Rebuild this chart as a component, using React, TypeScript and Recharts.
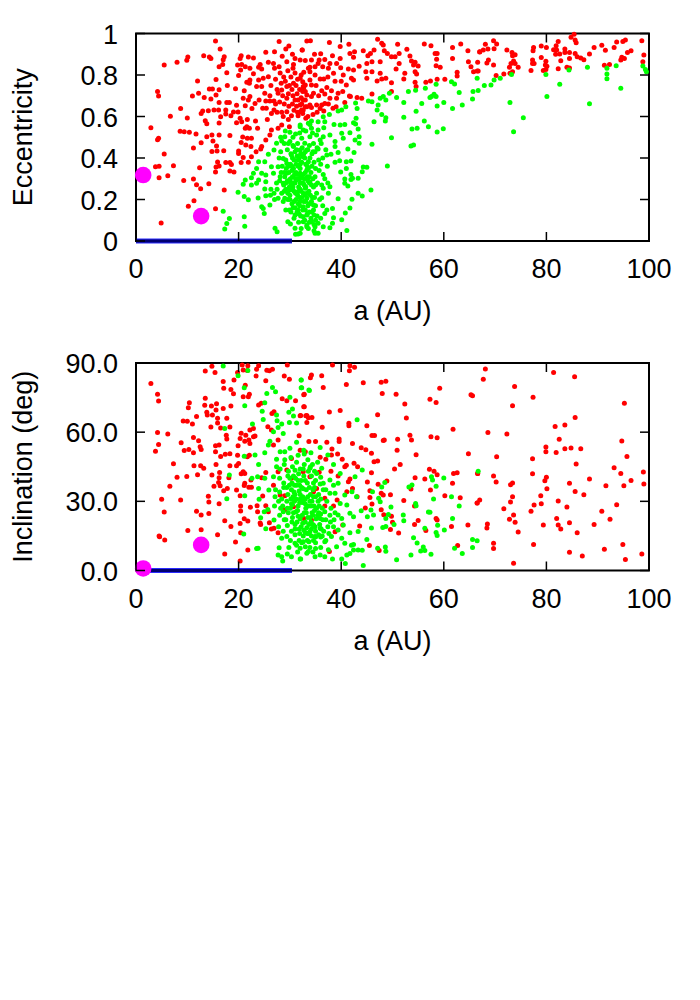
import React from "react"
import { ScatterChart, Scatter, XAxis, YAxis, ReferenceArea } from "recharts"

type Pair = number[]

const aTicks = [0, 20, 40, 60, 80, 100]
const eccTicks = [0, 0.2, 0.4, 0.6, 0.8, 1]
const incTicks = [0, 30, 60, 90]

// a (AU), eccentricity
const eccRed: Pair[] = [
  [15.5,.964],[16.4,.925],[5.5,.848],[8,.861],[10.1,.887],[9.9,.871],[13.2,.893],[14.3,.887],[14.6,.879],[17.2,.888],[17,.874],[16.9,.851],[16.2,.84],[17.7,.811],[20.5,.893],[20.3,.88],[21.9,.887],[22.9,.882],[19.8,.848],[20.6,.851],[21.3,.84],[20.4,.824],[22.2,.832],[20,.797],[24.2,.851],[23.9,.837],[24.5,.829],[25.8,.861],[27,.912],[27.9,.961],[29.2,.925],[29.8,.94],[32.4,.92],[30.5,.9],[32,.872],[29.4,.864],[26.8,.856],[27,.832],[27.9,.84],[30.7,.851],[30.6,.832],[33.6,.832],
  [15.6,.778],[12,.771],[17.8,.749],[19.4,.734],[21.1,.724],[21.6,.765],[22.2,.776],[22.1,.76],[22.9,.806],[23.5,.744],[24.5,.744],[24.8,.784],[25.8,.792],[23.9,.776],[4.2,.72],[4.4,.699],[11,.699],[12.2,.712],[13.3,.691],[14.3,.733],[14.9,.733],[16.2,.729],[15.6,.704],[14.6,.684],[8.7,.639],[6.7,.601],[10,.593],[2.9,.546],[4.4,.495],[4.2,.488],[5.5,.419],[8.6,.529],[9.4,.527],[10.4,.524],[11.7,.516],[12.7,.474],[11.2,.448],[13.8,.503],[14.8,.511],[16.2,.511],[18.3,.508],[15,.482],[15.7,.458],[14.8,.431],[15.8,.434],[17.1,.435],
  [12.7,.615],[13,.626],[14.1,.628],[15.2,.631],[16.1,.631],[16.2,.668],[17.7,.668],[18.2,.668],[19.6,.654],[17.5,.631],[17.5,.612],[16.5,.599],[19,.622],[19.9,.622],[18.5,.604],[13.5,.58],[13.8,.565],[16.2,.569],[19.6,.57],[20.3,.591],[20.6,.575],[21.7,.586],[23.3,.578],[23.7,.543],[21.3,.543],[21.6,.551],[22.1,.543],[20.8,.501],[21.7,.495],[22.5,.495],[20.5,.475],[21.4,.463],[22.4,.455],[24.5,.455],[25.3,.487],[26.1,.511],[26.4,.535],[27.7,.543],[28.4,.559],[29.9,.551],[20,.434],[20,.422],[23.4,.43],[24.3,.443],[20.5,.378],[21.9,.379],[20.9,.403],[22.5,.406],[17.5,.378],[18.3,.378],[18.6,.369],[15.9,.381],[15.6,.357],[16.2,.361],[18.3,.337],[19.1,.333],[15.5,.333],[12.4,.353],[7.3,.363],[3.8,.358],[4.5,.36],[4.5,.305],[6.2,.315],[9.3,.291],[11.2,.299],[11.8,.271],[12.6,.252],[14.2,.276],[17.2,.246],[11.3,.194],[10.2,.167],[15.5,.156],[4.9,.087],
  [25.6,.586],[26.9,.631],[26.4,.615],[28.4,.62],[29.4,.623],[30.3,.604],[29.7,.586],[31.6,.604],[32,.623],[32.6,.631],[32,.655],[33,.647],[33.9,.655],[31.6,.68],[33.3,.704],[31,.68],[29.4,.688],[28.4,.728],[29.4,.744],[30.7,.76],[32,.784],[33,.752],[32.5,.72],[33.9,.776],[27.7,.712],[25.1,.712],[25.3,.675],[26.1,.675],[26.9,.675],[22.2,.696],[20.9,.688],[21.9,.68],[23.2,.663],[21.3,.652],[22.6,.639],
  [33.3,.964],[34,.965],[37.7,.957],[39.8,.937],[41.5,.948],[32.4,.92],[36,.903],[34.2,.872],[35.7,.872],[36.8,.875],[38.3,.893],[39.8,.88],[41.7,.904],[42.6,.912],[42.4,.885],[44.3,.917],[45.7,.904],[46.4,.92],[47.1,.972],[47.9,.953],[48.2,.945],[51,.948],[48.4,.917],[49,.904],[49.8,.888],[50.5,.888],[51.3,.904],[52.8,.924],[53.4,.892],[56.2,.949],[57.5,.941],[58.3,.904],[58.7,.904],[58.6,.876],[61.7,.932],[63.3,.949],[64.7,.917],[67,.912],[61.7,.88],[64.8,.864],[65.3,.84],[65.8,.816],[66.7,.819],[58.5,.845],[59.3,.837],[53.7,.867],[54.4,.861],[54.1,.848],[55,.843],[54.4,.816],[54.7,.805],[52.4,.808],[52.2,.781],[50.7,.829],[51.3,.856],[47.6,.864],[45.2,.893],[45,.856],[46,.864],[43.5,.842],[44.8,.816],[46,.816],[47.6,.808],[45,.784],[47,.771],[47.9,.781],[48.7,.784],[49.8,.763],[54.4,.765],[54.6,.745],[56.5,.765],[57.4,.771],[58.7,.779],[60.2,.779],[62.6,.813],[62.6,.795],
  [33.9,.837],[34.9,.84],[35.5,.856],[36.4,.84],[37.8,.856],[39.1,.856],[39.9,.835],[38.5,.808],[37.5,.832],[34.9,.8],[40.4,.8],[41.4,.829],[42.4,.824],[42,.784],[42.4,.776],[32.7,.813],[33.9,.816],[35.9,.781],[36.6,.781],[32.5,.768],[34.2,.752],[36.2,.724],[38.1,.724],[41,.752],[39.4,.712],[40.3,.72],[41.6,.699],[41.8,.696],[43.1,.691],[44,.688],[46,.708],[49.8,.72],[32.6,.744],[33,.72],[34.6,.712],[32.6,.68],[34.2,.696],[35.2,.655],[36.8,.708],[37.8,.688],[39.1,.688],[33.3,.647],[34.2,.643],[36.2,.655],[36.8,.663],[35.9,.639],[36.6,.627],[39,.647],[40.7,.668],[32.3,.631],[32.5,.615],[33.1,.591],
  [69.7,.965],[70.3,.949],[68.1,.948],[67.7,.92],[67,.911],[68.6,.925],[69.8,.927],[72.3,.92],[73.3,.909],[73.9,.898],[73.4,.893],[66.6,.861],[68.4,.858],[68.7,.872],[69.7,.848],[66.5,.819],[70.2,.797],[71.7,.805],[72.8,.837],[73.1,.856],[73.6,.867],[73.9,.855],[74.5,.837],[73.4,.816],[72.9,.808],[77,.822],[77.3,.872],[77.6,.856],[77.3,.856],[77.4,.917],[77.5,.932],[79,.94],[80,.933],[79,.884],[79.9,.866],[79.8,.848],[80.1,.842],[79.9,.827],[79.4,.822],[82.3,.962],[81.9,.941],[81.4,.922],[82,.92],[81.8,.9],[82.6,.901],[82.8,.869],[82.3,.83],[84,.837],[84.5,.834],[83.6,.925],[83.6,.909],[84.5,.909],[84.5,.88],[84.8,.982],[85.4,.996],[85.6,.969],[85.8,.956],[85.6,.904],[86,.888],[86.7,.882],[87.3,.874],[88.4,.901],[89.3,.932],[90.8,.943],[91.5,.919],[91.3,.847],[92.3,.851],[93.2,.933],[93.7,.959],[94.9,.962],[95.4,.969],[95.8,.908],[96.5,.917],[94.5,.872],[94.7,.885],[95.2,.879],[98.6,.965],[99,.896],[98.8,.864],
  // thick patch above the green cloud
  [28.1,.81],[28.8,.79],[29.6,.82],[30.2,.79],[31,.81],[31.5,.78],[32.2,.8],[28.3,.76],[29.1,.77],[29.9,.75],[30.4,.73],[31.2,.75],[31.9,.73],[32.7,.74],[27.5,.73],[28.6,.7],[29.7,.71],[30.6,.7],[31.4,.71],[32.2,.69],[33,.68],[27.2,.66],[28,.67],[28.9,.66],[29.8,.65],[30.5,.66],[31.3,.65],[32.3,.66],[27.5,.62],[28.7,.6],[30.8,.63],[31.5,.62],[26.3,.75],[27.2,.78],[26.1,.7],[24,.68],[24.7,.64],[25.4,.64],[33.5,.6],[34.5,.61],[35.3,.62],[37.5,.66],[38.4,.64],[37.2,.74],[38.8,.77],[40,.77],[35.1,.75],[35.6,.7],[37.4,.79],[31,.88],[33,.87],[34.8,.9],[28.5,.89],[25.3,.91],
]

const eccGreen: Pair[] = [
  [58.5,.755],[56.4,.736],[53.1,.721],[54.5,.726],[61.5,.768],[62.1,.757],[63,.716],[65.7,.721],[66.7,.725],[66.5,.784],[65.6,.684],[63.6,.655],[61.7,.638],[60,.668],[58.7,.651],[57.6,.696],[58.1,.707],[58.5,.696],[57.3,.692],[55.7,.663],[54.6,.625],[52.2,.668],[50.8,.691],[49.4,.712],[48.7,.68],[47.6,.688],[48.2,.696],[46,.671],[45.3,.675],[47.2,.655],[47,.631],[47.9,.61],[48.7,.594],[48.6,.578],[46.4,.575],[52.2,.596],[56.2,.578],[57,.551],[54.8,.543],[53.8,.54],[59.9,.541],[58.7,.525],[49.8,.498],[46,.466],[54.1,.463],[53.6,.458],[49,.361],[45.8,.246],[41.1,.051],
  [42.8,.665],[43.1,.639],[40.9,.647],[40.1,.631],[39.4,.626],[37.7,.61],[36.5,.599],[42.9,.591],[42.4,.57],[42.8,.564],[43.3,.54],[38.6,.562],[39.8,.559],[40.7,.562],[36.8,.575],[35.5,.575],[34.2,.578],[33.9,.562],[32,.559],[34.2,.543],[35.5,.535],[36.6,.546],[32.6,.535],[40.1,.519],[41.7,.522],[43.5,.503],[40.4,.495],[42.7,.487],[43.5,.471],[38.8,.479],[37.8,.511],[36.5,.503],[35.2,.511],[33.9,.503],[35.9,.487],[38.8,.455],[41.3,.443],[42.5,.427],[39.4,.426],[38,.418],[37.2,.414],[34.9,.43],[35.5,.443],[33.3,.439],[38.8,.379],[39.7,.387],[41,.382],[41.9,.386],[44.3,.357],[45,.355],[44.1,.334],[41.9,.321],[39.9,.333],[41,.35],[40.7,.299],[41.9,.296],[42.2,.302],[43.3,.302],[40.7,.278],[41.3,.265],[43.3,.23],[44.1,.217],[42.1,.201],[39.4,.204],[41.7,.159],[40.8,.135],[40.1,.103],[38.5,.112],[38.3,.085],[37.8,.064],[38.3,.157],[37.8,.262],[37.5,.23],[36.5,.254],[36.2,.209],[35.5,.037],[34.9,.037],[36.5,.069],[35.5,.085],[34.9,.069],[34.2,.093],[36.8,.133],[37.2,.149],[34.6,.173],[34.7,.125],[32.6,.117],[33.3,.069],[32,.037],
  [17,.143],[18.2,.109],[17.7,.084],[17.3,.058],[21.1,.117],[21.2,.071],[19.9,.235],[21.1,.215],[21.9,.199],[23.8,.207],[24.5,.165],[24.8,.157],[25,.133],[25.3,.218],[26.1,.173],[26.9,.23],[27.7,.206],[27.1,.061],[27.5,.045],[29.6,.093],[30.1,.082],[31.6,.034],[31.1,.032],[31,.125],[29.9,.149],[29,.206],[20.9,.273],[21.3,.294],[22.5,.27],[23.5,.278],[25.1,.251],[25.3,.286],[23.9,.294],[22.5,.305],[22.9,.326],[23.5,.35],[24.5,.326],[25.3,.318],[23.9,.382],[25.1,.382],[25.8,.418],[26.9,.439],[27.4,.471],[28.4,.482],[26.4,.358],[26.8,.326],[27.7,.358],[28.7,.398],[29.4,.374],[30,.479],[29,.503],[30,.524],[31.1,.516],[32,.551],[33.6,.567],[32.3,.495],[30.7,.455],[32,.439],[32.9,.471],[30.3,.414],[31.6,.39],[32.6,.406],[33.6,.382],[28.1,.31],[29.4,.326],[30.7,.35],[32,.326],[33.3,.342],[28.7,.278],[30,.286],[31.3,.294],[32.6,.278],[33.9,.286],[30,.246],[31.6,.238],[33,.254],[33.3,.206],[32,.19],[32.6,.165],[31.6,.149],[33.3,.125],[32.6,.093],[33.3,.077],[31,.061],
  [28.2,.5],[28.9,.47],[29.5,.44],[30.2,.42],[31,.43],[31.5,.47],[32.4,.45],[33,.43],[33.8,.46],[34.6,.47],[35.3,.45],[36.1,.47],[28.5,.36],[29.2,.39],[30.1,.37],[30.8,.39],[31.6,.36],[32.3,.38],[33.1,.37],[33.9,.4],[34.7,.38],[35.6,.39],[36.4,.4],[28.3,.33],[29,.31],[29.8,.33],[30.5,.31],[31.2,.33],[31.9,.3],[32.6,.32],[33.4,.31],[34.1,.33],[34.9,.31],[35.7,.34],[36.5,.32],[37.3,.36],[28,.29],[28.8,.27],[29.5,.29],[30.2,.27],[31,.28],[31.7,.26],[32.4,.28],[33.1,.26],[33.8,.28],[34.6,.26],[35.4,.28],[36.2,.27],[27.5,.25],[28.4,.23],[29.2,.25],[30,.22],[30.8,.24],[31.5,.22],[32.2,.24],[33,.22],[33.7,.24],[34.4,.21],[35.2,.23],[27,.2],[28.7,.19],[29.6,.2],[30.4,.18],[31.2,.2],[31.9,.17],[32.7,.19],[33.5,.17],[34.2,.19],[35,.17],[29.2,.15],[30.2,.14],[31,.16],[31.8,.13],[32.5,.15],[33.4,.13],[34.3,.14],[35.3,.12],[30.8,.11],[31.7,.09],[32.9,.1],[33.8,.09],[35,.1],[36,.11],[32.2,.06],[33.6,.06],[34.7,.05],[26.2,.22],[27.4,.28],[26.3,.25],[27.9,.4],[28.2,.43],[29.1,.53],[30.6,.5],[31.9,.52],[33.1,.53],[34.4,.52],[30.4,.34],[31.1,.3],[32,.35],[32.8,.3],[33.6,.35],[31.4,.41],[32.1,.42],[30.6,.26],[32,.25],[29.3,.35],[35,.35],[36,.37],[34.5,.43],[37,.44],[36.8,.3],[37.4,.28],[35.8,.2],[36.4,.17],[34.1,.11],
  [73.2,.803],[72.9,.668],[75.5,.594],[73.6,.527],[79.9,.802],[80.1,.696],[82.6,.755],[84.4,.824],[88,.837],[88.4,.662],[91.8,.832],[91.8,.805],[91.8,.782],[93.6,.845],[94.5,.736],[98.8,.843],[99.3,.826],[99.5,.816],[67.9,.75],[69.2,.752],[69.8,.776],[71,.784],
  // densest part of the cloud
  [29.7,.47],[30.6,.46],[31.3,.44],[32.7,.42],[33.5,.44],[30.5,.4],[31.8,.4],[32.9,.4],[34.3,.42],[29.7,.36],[30.4,.36],[31.2,.37],[32,.37],[33.4,.36],[34.3,.36],[28.9,.33],[30.1,.3],[30.9,.32],[31.6,.32],[32.2,.31],[33,.33],[33.8,.31],[34.5,.3],[29.2,.28],[29.9,.26],[30.6,.28],[31.4,.3],[32,.28],[32.8,.27],[33.5,.29],[34.2,.27],[35,.27],[28.9,.24],[29.6,.23],[30.4,.25],[31.1,.23],[31.9,.21],[32.6,.23],[33.3,.23],[34,.22],[34.8,.21],[30,.2],[30.8,.19],[31.6,.18],[32.3,.21],[33.1,.19],[33.8,.18],[34.6,.15],[30.6,.16],[31.4,.14],[32.1,.12],[33,.15],[33.8,.14],[34.7,.08],
]

// a (AU), inclination
const incRed: Pair[] = [
  [2.9,81.1],[4.2,76.5],[4.4,73.5],[4.2,59.9],[6.2,59.2],[4.4,54.7],[3.8,51.7],[8.8,55.4],[9.4,52.1],[10.3,52.5],[11.2,51.1],[11.2,57.7],[12.2,56.3],[12.5,53.7],[12.7,52.5],[7.3,46.3],[11.3,45.4],[12.6,45.4],[13.2,44.3],[12,41.5],[8,40.5],[9.9,40.8],[6.6,36.5],[5,30.9],[8.7,30.6],[5.5,25.4],[4.5,15],[4.6,14.6],[5.6,13.2],[10.1,17.4],[12.7,17.7],[11.8,25.7],[12.7,24.1],[14.2,24.7],[14.1,32.2],[14.2,29.7],[16.2,28.9],[17.3,21.6],[18.5,19.1],[20.3,20.4],[21.1,22.5],[21.8,21.5],[24.3,20],[15.9,15.5],[17.3,7.2],[19.4,12.4],[20.4,16.4],[21.8,8.9],[20.3,4.1],[20.4,28],[20.4,25.8],[22.3,27.4],[23.6,28.1],[23.7,25.5],[25.3,28.1],[25.8,25.5],[24.2,20.6],[26,20.7],[26.4,18],[26.9,18.3],[27.7,16.4],
  [13.5,86.5],[14.8,88.6],[15.4,85.9],[19.8,85.9],[20.7,89.1],[21.8,88.8],[21.7,86.8],[20.9,87],[23.5,87.3],[23.9,88.8],[25.5,86.9],[26,86.6],[26.6,87.3],[29.5,89.1],[23.4,84.4],[28.9,84.4],[29.9,83],[19.1,82.6],[17,82],[17.1,79],[18.5,78.5],[19,76.7],[21.3,80.4],[25.3,82.3],[20.9,75.4],[21.9,75.4],[22.1,76.5],[13.5,74.7],[10.4,72.8],[10.2,70.6],[13.4,71.7],[14.7,71.3],[15.7,72.3],[15.6,69.6],[17,70.3],[18.5,71.3],[13.8,68.6],[13.9,67.4],[14.9,67.4],[15.9,66],[15.9,64],[17.7,66],[11.8,66.8],[9.2,64.8],[10,64.7],[11,63.5],[14.6,62.2],[16.5,61.8],[18.3,62.2],[20.5,59.5],[21.4,58.7],[21.2,56.1],[20.3,57.3],[22.9,58],[23.2,58.3],[17.6,58.7],[17.7,57],[16.2,54.4],[15.5,54.1],[19.9,54.1],[22,56.6],[22.2,55.1],[22.9,61.6],[22.2,60.9],[25.7,62.4],[15.5,51.5],[16.5,49.5],[17.4,50.4],[18.3,50.6],[19.8,50],[21.7,49.3],[22.1,50],[15.6,46],[18.3,45.4],[20,46.4],[19.6,45.4],[14.8,41.4],[16.3,42.5],[16.2,40.2],[18.1,40.2],[20.9,42.8],[21.2,42.1],[20.5,42],[16.1,38.2],[15.2,36.5],[16.4,36.8],[17.8,35.6],[17.1,34.6],[19.6,34.9],[21.2,37.8],[21.1,36.9],[22,36.1],[22.5,36.1],[22.4,39.2],[25.3,42.5],[24.5,40.2],[20.3,32.4],[24.7,32.3],[29,32.4],[23.9,71.8],[24.4,72.5],[26.5,68.1],[26.9,68.9],[28.5,74.5],[29.4,73.6],[31.1,73.6],[32.8,76.4],[32.8,71],[32.1,67.2],[33.3,67.2],[26.8,54.4],[27.7,56.6],[31.8,58.5],[30.3,48.6],[26.4,60.9],[32,52.2],[33,51.5],[29.4,43.6],[30.3,40],[27.7,42.8],[28.1,32.7],[30.7,27.7],[29,26.2],[26.8,37],
  [38.3,89.1],[41.6,86.6],[41.7,88.8],[42.6,88.2],[34.2,84.8],[34,83.6],[36.2,84.5],[36.5,79.4],[32.7,76.2],[41,80.7],[44.3,81.4],[47.8,81.7],[48.7,82.1],[48,76.8],[50.7,76.5],[52.4,72.2],[57.3,74.3],[58.5,72.9],[59.2,79],[65.3,76.2],[65.6,75.8],[32.7,71],[37.7,68.7],[39.8,69.4],[47.1,67.6],[52.7,66.1],[32,67.1],[33.1,67.1],[33.6,66.3],[34.3,66.4],[33.3,64.2],[36.3,62.1],[41.5,63.9],[41.5,62.8],[45,62.8],[61.8,61.3],[46,58.6],[46.5,58.6],[48.2,56.4],[48.4,56.6],[51,56.9],[53.4,58.7],[53.7,56.6],[57.5,58],[58.7,57.6],[33.7,55.9],[35,55.9],[37.2,55.6],[39.6,57],[39.6,55.9],[42.2,55.1],[43.9,53.2],[44.8,52.4],[45.9,50.9],[50.9,52.2],[54.6,50.2],[64.8,50.6],[38.2,52.7],[38.1,50.1],[39.3,50.5],[35.9,49.1],[37,48.3],[40.2,48.3],[46.4,47.2],[47.1,47.5],[51.5,46],[41,45.7],[40.7,45],[42.5,46.5],[43.2,45],[50.4,44],[38,43.1],[35.7,42.6],[45.9,42.4],[39.4,41],[57.2,43.9],[58.1,43],[58.7,41.5],[61.9,42.1],[62.6,42.4],[54.4,40.2],[56.3,39.7],[61.7,37.8],[66.6,42.1],[48.9,38.8],[47.2,37.4],[45.1,38.4],[41.7,39.7],[41.4,38.5],[57.4,34.9],[53.6,35.3],[45.6,34.6],[47.8,33.5],[48.2,32.7],[49.6,32.9],[42.2,35.6],[41.1,34.2],[45.6,31.7],[43.1,32],[39.2,30.6],[60.2,32.4],[63.2,31.6],[66.5,29.3],[52.2,30.4],[54.3,28],[46,28.8],[44.7,27.1],[47.8,26.4],[48.3,24.2],[49.8,23.5],[38.5,28],[55,21.7],[58.5,22.6],[58.7,21.9],[54.3,19.9],[61.5,19.1],[64.7,19.7],[50,20.9],[49.6,17.8],[51.2,16.3],[56.5,17.4],[43.6,19.3],[45.5,10.8],[47.4,8.7],[62.7,10.8],[37.7,8.2],[38.8,16.8],[40.3,19.7],[35.9,24.5],[32.7,22.6],[34.2,21.9],[36.8,31.3],[35.2,35.6],[33.9,40.7],[32.6,42.8],[34.6,34.2],[36.8,28],
  [68.1,87.4],[67.7,82.9],[73.8,79.8],[77.4,75.1],[73.4,71.5],[81.4,85.9],[85.5,84],[95.2,72.5],[85.6,66.4],[83.6,63.1],[81.7,62.5],[68.6,59.9],[72.3,59.2],[94.7,56.2],[82.5,56.9],[79.9,53.6],[79.9,51.5],[81.9,51.2],[83.6,52.8],[84.8,53.1],[86.7,52.8],[70.3,49.3],[77.3,48.5],[95.7,49.5],[85.8,46.2],[93.2,44.6],[98.9,42.7],[94.5,42.1],[66.6,42.1],[69.7,41],[77.3,42],[80,40.4],[79.7,38.9],[88.4,39.7],[70.2,38.4],[73.4,37.9],[73,37.2],[84.5,37.8],[91.6,36.8],[95.1,36.8],[96.5,39],[99,37.5],[80.1,35.5],[85.6,34.3],[87.3,32.9],[78.9,32.4],[73.4,32],[73,29.7],[67,30.6],[66.5,29.3],[82.3,30.1],[79,29],[77.6,28.4],[84,27.5],[71.7,26.8],[77,25.7],[93.7,28.5],[90.8,25.7],[73.6,24.1],[82,22.6],[72.8,22.2],[73.9,20.9],[92.4,22.2],[68.5,20.2],[68.4,18.4],[79.4,19.7],[82.3,19.7],[82.8,18],[84.5,20.7],[89.3,20],[74.5,16.7],[86,16.4],[69.7,11.8],[69.7,9.5],[77.5,11.3],[94.9,11.3],[91.3,9.2],[84.5,7.9],[87,6.3],[98.6,7.2],[95.4,4.8],[73.6,3.1],
]

const incGreen: Pair[] = [
  [17,88.7],[19.9,84.5],[21.8,86.8],[21.1,79.3],[21.2,71.5],[25.5,76.8],[26.6,79.4],[27.2,77.5],[25.1,72.8],[24.6,69.1],[24.8,65.5],[27.4,67.4],[30,75.1],[32.3,79.3],[32.2,82.6],[33.7,78.3],[29.8,68.6],[30.5,70],[30.7,67],[27.5,65],[28.4,63.5],[29.9,64.2],[31.3,64],[26.8,60.2],[27.7,62],[28.7,59.4],[22.7,63.5],[17.3,61.6],[26.1,56.1],[25.8,54.4],[25.1,51.1],[23.2,50.1],[21.1,49.6],[23.9,46],[27.4,48.3],[28.1,51.5],[29,51.5],[30,53],[31.3,55.6],[18.2,41.4],[22.6,40],[23.7,40.7],[25.1,40],[23.9,35.6],[17.7,31.1],[21.2,32.4],[24,30.9],[26.8,40.7],[25.9,34.9],[27.1,32],[25,25.5],[25.7,26.5],[24.3,22.9],[26.9,21.9],[25.3,18.1],[21,15.8],[23.8,9.6],[23.5,9.5],[27.9,9.9],[28.4,14],[29.4,14.7],[27.7,6.7],[29.5,7.2],[28.6,4.1],[28.4,6],[30.3,6],[32,5],[31,11.8],[32,9.6],[33,10.3],[33.3,7.5],
  [43.1,65.4],[32.2,82.6],[32.2,79.3],[33.8,78.1],[35.9,53.4],[32.7,52.2],[34.1,51.1],[37.4,50.1],[38.5,46],[44.1,43.6],[39.8,42.1],[42.7,40.7],[47.9,36.2],[48.5,38.2],[53.8,37.1],[53.2,36.2],[57.6,40.7],[57.8,39.2],[60,40.1],[58.5,36.5],[58,31],[61.5,32],[63,28],[66.7,43.1],[54.5,29.1],[54.6,28.1],[49.7,27.5],[57,25.4],[57.3,25.3],[61.7,22.6],[52.1,24.1],[52.2,21.6],[49.2,24.3],[48.7,22.6],[50.3,20],[48.7,19.1],[48.1,18.6],[45.9,18.4],[56.3,18.3],[58.8,19.6],[60.1,17.6],[58.5,16.5],[58.7,15.2],[54.1,14.2],[65.6,13.5],[66.5,12.9],[54.8,11.9],[56,10.2],[56.3,8.7],[55.5,8.5],[57.5,7],[53.6,6.7],[50.8,4.7],[48.6,10.2],[48.7,8.3],[47.1,9.6],[62.1,9.6],[65.6,10],[63.6,7.4],[44.3,2.2],[40.8,3],[40.1,5],[41.1,6.7],[41.7,7.4],[42.4,8.9],[43.3,8.9],[44.1,8.8],[42,11],[42.4,11.3],[45,13.4],[43.3,16.9],[41.7,16.4],[40.1,14],[40.7,11.8],[39.1,10.3],[38.3,5],[36.8,6],[35.9,6.7],[34.9,6],[33.6,8.2],[32.1,5],
  [45.1,23.3],[46.3,24.1],[45.8,26.2],[46.1,34.2],[43.9,25.9],[47.3,31.3],[47.6,29.8],[42.4,23.3],[41.7,24.8],[40.1,22.6],[40.4,19.7],[39.4,24.1],[41.1,28.4],[40.7,32.7],[39.8,29.1],[43,32],[42.1,34.2],[39.4,37.8],[37.8,39.2],[36.5,37.8],[36.2,44.3],[35.2,42.1],[33.9,44.3],[37.8,33.5],[38.8,33.5],[34.6,32],[36.8,25.5],[35.9,22.6],[38.5,19],[39.4,17.6],[38.1,14.7],[36.8,12.5],[34.9,14.7],[33.9,16.8],[35.9,18.3],[34.6,19.7],[33,16.5],[32.6,12.5],
  [27.4,45],[28.1,44],[28.9,46],[29.7,43],[30.5,45],[31.3,47],[32,44],[32.8,46],[33.5,48],[34.4,46],[28,40],[28.8,38],[29.6,41],[30.4,38],[31.1,40],[31.9,37],[32.7,41],[33.4,38],[34.2,41],[35,39],[36,40.5],[27.2,35],[28,34],[28.8,36],[29.6,33],[30.3,35],[31,33],[31.8,34.5],[32.5,32],[33.2,35],[34,33],[34.8,36],[35.6,33],[36.5,35],[27,28],[27.8,30],[28.6,28],[29.4,30],[30.1,27],[30.9,30],[31.6,28],[32.4,29.5],[33.1,27],[33.9,30],[34.7,28],[35.5,30],[36.3,27],[37.2,30],[38,27],[28,24],[28.9,22],[29.7,25],[30.5,23],[31.2,25.5],[32,22.5],[32.8,25],[33.5,23],[34.3,25],[35.1,22.5],[36,24.5],[37,22],[37.8,24],[27.8,19],[28.7,17],[29.5,19.5],[30.3,17],[31,20],[31.8,18],[32.5,20.5],[33.3,18.5],[34.1,21],[35,17],[35.8,20],[36.6,17],[37.4,19],[30.1,13],[31,15.5],[31.8,13],[32.6,15],[33.4,13],[34.2,15],[35,12],[36,14.5],[33.9,10],[35,9.5],[36,10],[37.5,9],[34.5,8],[31.5,8],[29.8,10],[29.4,36],[30.6,32],[32,31],[33,31],[31.3,37],[30.7,41],[32.2,39],[31.5,26],[33,21],[34.5,24],[32.6,35.5],[33.6,43],[34.8,43],[31,43.5],[29,48],[30.2,49],[31.6,50],[32.8,50.5],[28.2,27],[37,35],[36,31],[38.5,37],
  // densest part of the cloud
  [30,40],[30.9,37],[31.6,39],[32.3,36],[33,39],[33.8,36],[34.6,38],[30.2,31],[31.2,31],[31.9,29.5],[32.6,30],[33.5,32],[34.3,30],[35,32],[35.7,28],[30.7,25],[31.6,23.5],[32.4,24],[33.2,25],[34,23],[34.8,26],[35.6,25],[36.4,22],[31,18],[31.9,16],[32.7,17.5],[33.4,16],[34.2,18],[35,14.5],[35.6,15.5],[36.3,15],[37,13],[30.5,28.5],[32,33],[33.6,28],[34.4,20],[32.3,12],[33.7,12.5],[37.6,16],[38.6,22],[29.2,22],[28.4,31],[30.8,34],[31.7,42],[32.6,44],[34,45],[35.4,47],
  [29.5,27],[30.3,29],[33,29],[34.1,28],[35.2,27],[31.4,21],[32.2,19],[33.7,20],[34.9,19],[36.1,18],[30.4,21],[35.4,24],[33.6,16],[34.6,13],[31.3,11],[37.9,21],[38.8,25],[28.7,25.5],[29.9,37],[34.5,35],[35.9,37.5],
]

// the two large marks (a, value)
const eccBodies: Pair[] = [[1.4,.318],[12.7,.12]]
const incBodies: Pair[] = [[1.4,.9],[12.7,11.1]]
const diskEnds: Pair[] = [[0,0],[30.4,0]]

const toXY = (list: Pair[]) => list.map(([x, y]) => ({ x, y }))

const dot = (fill: string, r: number) => (props: any) => (
  <circle cx={props.cx} cy={props.cy} r={r} fill={fill} />
)
const noDot = () => <g />

const FONT = 27
const PLOT_W = 513
const PLOT_H = 207.5
const TICK = 9

function XTick({ x, y, payload }: any) {
  return (
    <g>
      <line x1={x} x2={x} y1={y} y2={y - TICK} stroke="#000" strokeWidth={1.5} />
      <line x1={x} x2={x} y1={y - PLOT_H} y2={y - PLOT_H + TICK} stroke="#000" strokeWidth={1.5} />
      <text x={x} y={y + 37} textAnchor="middle" fontSize={FONT} fill="#000">{payload.value}</text>
    </g>
  )
}

const yTick = (format: (v: number) => string) => ({ x, y, payload }: any) => (
  <g>
    <line x1={x} x2={x + TICK} y1={y} y2={y} stroke="#000" strokeWidth={1.5} />
    <line x1={x + PLOT_W} x2={x + PLOT_W - TICK} y1={y} y2={y} stroke="#000" strokeWidth={1.5} />
    <text x={x - 18} y={y + 10} textAnchor="end" fontSize={FONT} fill="#000">{format(payload.value)}</text>
  </g>
)

function Panel({ red, green, bodies, yMax, yTicks, yFormat, yLabel, top }: any) {
  return (
    <ScatterChart
      width={700}
      height={330}
      margin={{ top, right: 51, bottom: 0, left: 0 }}
      style={{ fontFamily: "'Liberation Sans', Arial, sans-serif" }}
    >
      <XAxis
        type="number"
        dataKey="x"
        domain={[0, 100]}
        ticks={aTicks}
        interval={0}
        height={330 - PLOT_H - top}
        tickSize={0}
        tickMargin={0}
        tickLine={false}
        axisLine={false}
        tick={XTick}
        label={{ value: "a (AU)", position: "insideBottom", offset: 10, fill: "#000", fontSize: FONT }}
      />
      <YAxis
        type="number"
        dataKey="y"
        domain={[0, yMax]}
        ticks={yTicks}
        interval={0}
        width={136}
        tickSize={0}
        tickMargin={0}
        tickLine={false}
        axisLine={false}
        tick={yTick(yFormat)}
        label={{ value: yLabel, angle: -90, position: "insideLeft", offset: 0, dx: 22, fill: "#000", fontSize: FONT, style: { textAnchor: "middle" } }}
      />
      <Scatter data={toXY(red)} shape={dot("#ff0000", 2.5)} isAnimationActive={false} />
      <Scatter data={toXY(green)} shape={dot("#00ff00", 2.5)} isAnimationActive={false} />
      <ReferenceArea x1={0} x2={100} y1={0} y2={yMax} fill="none" stroke="#000" strokeWidth={2} ifOverflow="visible" />
      <Scatter
        data={toXY(diskEnds)}
        shape={noDot}
        line={{ stroke: "#2a2aff", strokeWidth: 5 }}
        isAnimationActive={false}
      />
      <Scatter
        data={toXY(diskEnds)}
        shape={noDot}
        line={{ stroke: "#000070", strokeWidth: 3 }}
        isAnimationActive={false}
      />
      <Scatter data={toXY(bodies)} shape={dot("#ff00ff", 8.3)} isAnimationActive={false} />
    </ScatterChart>
  )
}

export default function App() {
  return (
    <div style={{ position: "absolute", left: 0, top: 0, width: 700, height: 1000, background: "#fff" }}>
      <Panel
        red={eccRed}
        green={eccGreen}
        bodies={eccBodies}
        yMax={1}
        yTicks={eccTicks}
        yFormat={(v: number) => String(v)}
        yLabel="Eccentricity"
        top={33.5}
      />
      <Panel
        red={incRed}
        green={incGreen}
        bodies={incBodies}
        yMax={90}
        yTicks={incTicks}
        yFormat={(v: number) => v.toFixed(1)}
        yLabel="Inclination (deg)"
        top={33}
      />
    </div>
  )
}
